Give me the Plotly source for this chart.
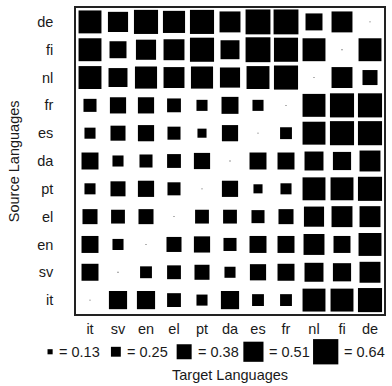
import plotly.graph_objects as go

# ---------------- data ----------------
targets = ["it", "sv", "en", "el", "pt", "da", "es", "fr", "nl", "fi", "de"]
sources = ["de", "fi", "nl", "fr", "es", "da", "pt", "el", "en", "sv", "it"]

row_de = [0.58, 0.51, 0.61, 0.56, 0.61, 0.53, 0.63, 0.63, 0.43, 0.53, 0.02]
row_fi = [0.58, 0.43, 0.51, 0.53, 0.61, 0.48, 0.63, 0.61, 0.58, 0.02, 0.58]
row_nl = [0.58, 0.48, 0.56, 0.53, 0.56, 0.51, 0.58, 0.61, 0.02, 0.53, 0.38]
row_fr = [0.33, 0.41, 0.41, 0.35, 0.28, 0.43, 0.28, 0.02, 0.58, 0.61, 0.61]
row_es = [0.28, 0.38, 0.41, 0.33, 0.23, 0.41, 0.02, 0.30, 0.58, 0.61, 0.61]
row_da = [0.43, 0.28, 0.33, 0.35, 0.41, 0.02, 0.43, 0.43, 0.48, 0.46, 0.53]
row_pt = [0.28, 0.38, 0.41, 0.33, 0.02, 0.41, 0.23, 0.28, 0.58, 0.58, 0.61]
row_el = [0.38, 0.35, 0.38, 0.02, 0.35, 0.35, 0.33, 0.38, 0.51, 0.53, 0.53]
row_en = [0.43, 0.28, 0.02, 0.38, 0.41, 0.33, 0.43, 0.43, 0.53, 0.43, 0.58]
row_sv = [0.43, 0.02, 0.30, 0.35, 0.38, 0.28, 0.41, 0.43, 0.48, 0.46, 0.53]
row_it = [0.02, 0.46, 0.46, 0.35, 0.28, 0.46, 0.30, 0.30, 0.58, 0.58, 0.61]

rows = [row_de, row_fi, row_nl, row_fr, row_es, row_da, row_pt, row_el, row_en, row_sv, row_it]

legend_values = [0.13, 0.25, 0.38, 0.51, 0.64]
legend_labels = ["= 0.13", "= 0.25", "= 0.38", "= 0.51", "= 0.64"]

# ---------------- layout geometry ----------------
W, H = 392, 386
ML, MR, MT, MB = 76, 7, 6, 72
PW, PH = W - ML - MR, H - MT - MB
cell_px = PW / len(targets)
scale = 0.9 * cell_px / max(legend_values)   # pixels per unit value

FONT = "Liberation Sans, Arial, sans-serif"
FS = 14.5
TXT = "#1a1a1a"

xs, ys, sizes = [], [], []
for src, row in zip(sources, rows):
    for tgt, v in zip(targets, row):
        xs.append(tgt)
        ys.append(src)
        sizes.append(v * scale)

fig = go.Figure(
    go.Scatter(
        x=xs, y=ys, mode="markers",
        marker=dict(symbol="square", size=sizes, color="black", opacity=1,
                    line=dict(width=0)),
        hoverinfo="skip", showlegend=False,
    )
)

# ---------------- legend row (squares + labels) ----------------
legend_centers_px = [50, 116, 184.5, 254, 326.5]
legend_y_px = 352
shapes, annots = [], []
for cx, v, lab in zip(legend_centers_px, legend_values, legend_labels):
    s = v * scale
    px = (cx - ML) / PW
    py = (MT + PH - legend_y_px) / PH
    shapes.append(dict(
        type="rect", xref="paper", yref="paper",
        xsizemode="pixel", ysizemode="pixel",
        xanchor=px, yanchor=py,
        x0=-s / 2, x1=s / 2, y0=-s / 2, y1=s / 2,
        fillcolor="black", line=dict(width=0),
    ))
    annots.append(dict(
        text=lab, xref="paper", yref="paper",
        x=(cx + s / 2 + 4 - ML) / PW, y=py,
        xanchor="left", yanchor="middle", showarrow=False,
        font=dict(family=FONT, size=FS, color=TXT),
    ))

annots.append(dict(
    text="Target Languages", xref="paper", yref="paper",
    x=(231 - ML) / PW, y=(MT + PH - 375) / PH,
    xanchor="center", yanchor="middle", showarrow=False,
    font=dict(family=FONT, size=FS, color=TXT),
))
annots.append(dict(
    text="Source Languages", xref="paper", yref="paper",
    x=(14 - ML) / PW, y=(MT + PH - 160) / PH, textangle=-90,
    xanchor="center", yanchor="middle", showarrow=False,
    font=dict(family=FONT, size=FS, color=TXT),
))

fig.update_layout(
    width=W, height=H,
    margin=dict(l=ML, r=MR, t=MT, b=MB, pad=0),
    paper_bgcolor="white", plot_bgcolor="white",
    font=dict(family=FONT, size=FS, color=TXT),
    shapes=shapes, annotations=annots,
    xaxis=dict(
        type="category", categoryorder="array", categoryarray=targets,
        range=[-0.5, len(targets) - 0.5], showgrid=False, zeroline=False,
        showline=True, mirror=True, linecolor="#222", linewidth=1.5,
        ticks="", ticklabelstandoff=1, fixedrange=True,
    ),
    yaxis=dict(
        type="category", categoryorder="array", categoryarray=sources[::-1],
        range=[-0.5, len(sources) - 0.5], showgrid=False, zeroline=False,
        showline=True, mirror=True, linecolor="#222", linewidth=1.5,
        ticks="", ticklabelstandoff=18, fixedrange=True,
    ),
)

fig.write_html("out.html")
